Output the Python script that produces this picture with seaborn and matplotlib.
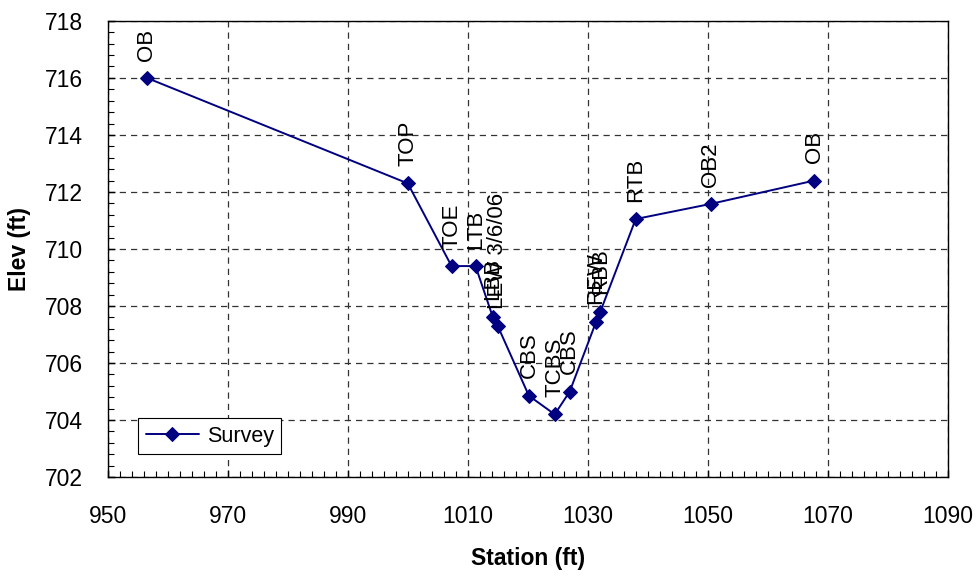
import pandas as pd
import matplotlib.pyplot as plt
import seaborn as sns
from matplotlib.ticker import MultipleLocator

# survey points
station = [956.5, 1000.0, 1007.3, 1011.3, 1014.2, 1015.0, 1020.2, 1024.5, 1027.0,
           1031.4, 1032.1, 1038.0, 1050.5, 1067.8]
elev = [716.0, 712.3, 709.4, 709.4, 707.6, 707.3, 704.85, 704.2, 705.0,
        707.45, 707.8, 711.05, 711.58, 712.4]
labels = ['OB', 'TOP', 'TOE', 'LTB', 'LBB', 'LEW 3/6/06', 'CBS', 'TCBS', 'CBS',
          'REW', 'RBB', 'RTB', 'OB2', 'OB']
xticks = [950, 970, 990, 1010, 1030, 1050, 1070, 1090]

sns.set_theme(style='white')
plt.rcParams['font.family'] = ['Liberation Sans', 'DejaVu Sans']
plt.rcParams['text.color'] = 'black'
plt.rcParams['axes.labelcolor'] = 'black'

df = pd.DataFrame({'station': station, 'elev': elev, 'label': labels})

fig = plt.figure(figsize=(9.8, 5.79), dpi=100)
ax = fig.add_axes([0.110, 0.176, 0.857, 0.788])

sns.lineplot(data=df, x='station', y='elev', sort=False, estimator=None,
             color='#000080', marker='D', markersize=7, markeredgecolor='#000080',
             linewidth=1.4, label='Survey', ax=ax)

for _, r in df.iterrows():
    ax.annotate(r['label'], (r['station'], r['elev']), xytext=(0, 12.5),
                textcoords='offset points', rotation=90, ha='center', va='bottom',
                fontsize=16, color='black')

ax.set_xlim(950, 1090)
ax.set_ylim(702, 718)
ax.set_xticks(xticks)
ax.xaxis.set_minor_locator(MultipleLocator(2))
ax.yaxis.set_major_locator(MultipleLocator(2))
ax.yaxis.set_minor_locator(MultipleLocator(0.4))
ax.tick_params(which='both', direction='in', colors='black', labelsize=16.5,
               bottom=True, left=True)
ax.tick_params(axis='x', which='major', length=5, width=1, pad=20)
ax.tick_params(axis='y', which='major', length=5, width=1, pad=18)
ax.tick_params(which='minor', length=4, width=0.8)
ax.grid(True, which='major', linestyle=(0, (5, 4)), color='#333333', linewidth=0.9)

for s in ax.spines.values():
    s.set_color('black')
    s.set_linewidth(1.0)

ax.set_xlabel('Station (ft)', fontsize=16.5, fontweight='bold', labelpad=14)
ax.set_ylabel('Elev (ft)', fontsize=16.5, fontweight='bold', labelpad=10)

leg = ax.legend(loc='lower left', bbox_to_anchor=(0.036, 0.05), fontsize=15.5,
                frameon=True, fancybox=False, edgecolor='black', framealpha=1,
                handlelength=2.5, handletextpad=0.35, borderpad=0.35,
                borderaxespad=0)
leg.get_frame().set_linewidth(0.8)

fig.savefig('out.png', dpi=100)
